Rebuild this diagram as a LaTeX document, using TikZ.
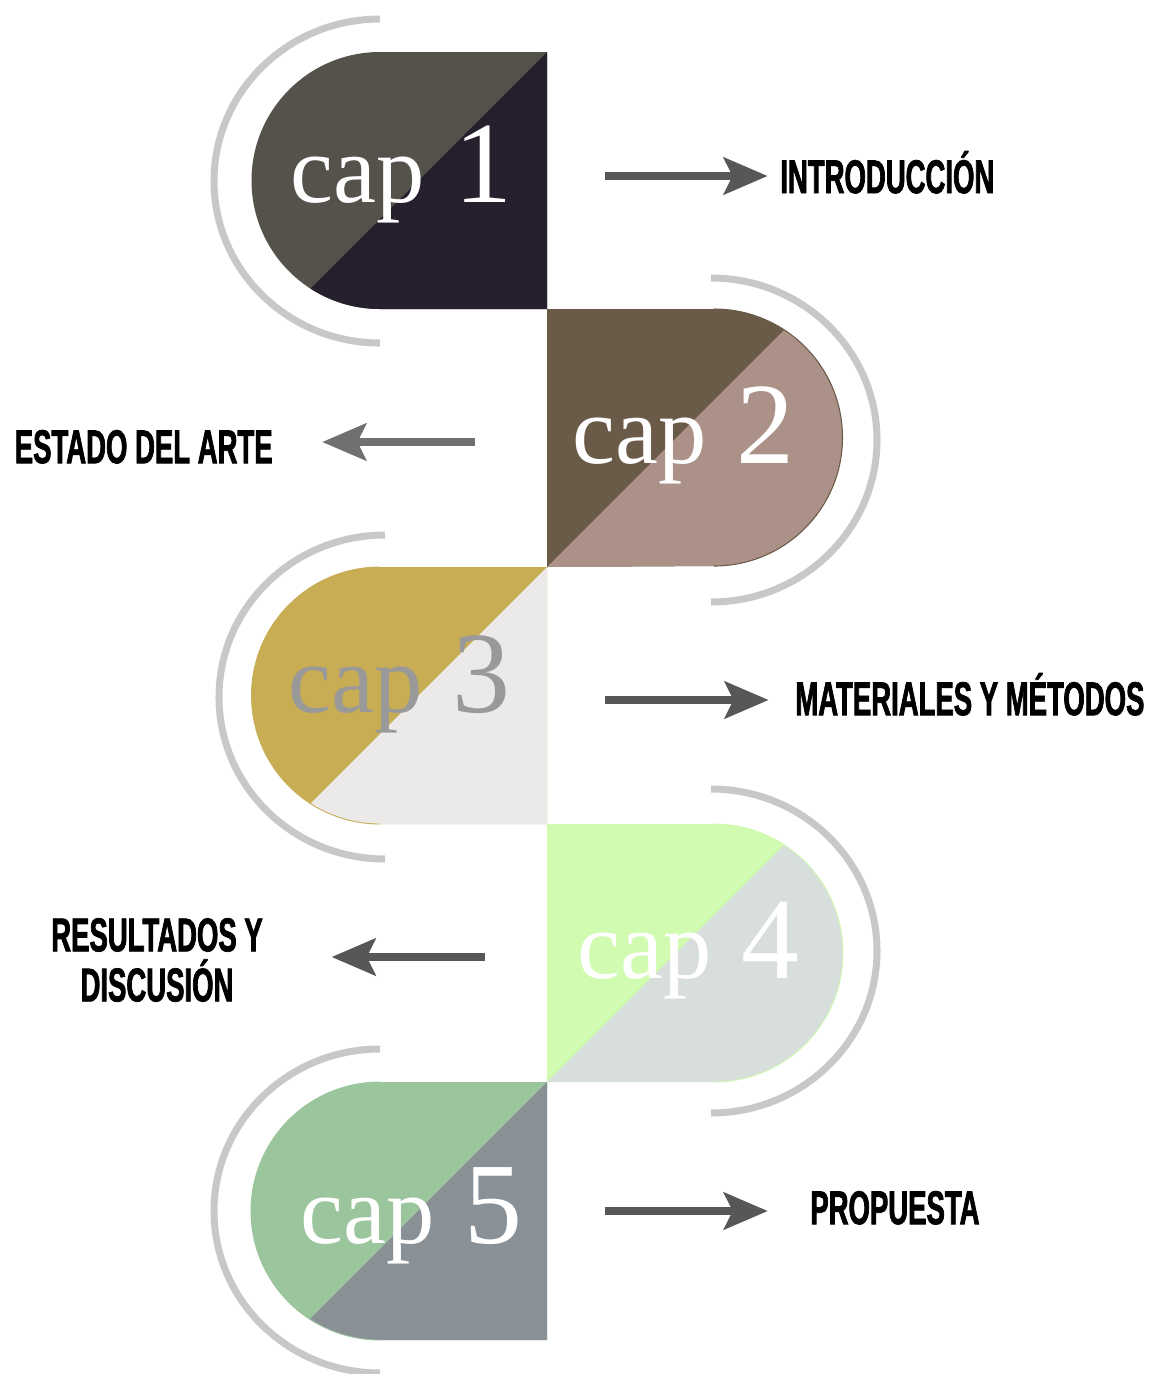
\documentclass[tikz,border=0pt]{standalone}
\usepackage{fontspec}
\usetikzlibrary{arrows.meta, positioning}
\newfontfamily\capfont{Liberation Serif}
\newfontfamily\labelfont[FakeStretch=0.58,FakeBold=1.5]{Liberation Sans Bold}
\definecolor{capAa}{HTML}{55524B}
\definecolor{capAb}{HTML}{261F2E}
\definecolor{capBa}{HTML}{6A5A48}
\definecolor{capBb}{HTML}{AB9187}
\definecolor{capCa}{HTML}{C8AD55}
\definecolor{capCb}{HTML}{ECEAE8}
\definecolor{capDa}{HTML}{D0FBB0}
\definecolor{capDb}{HTML}{D7DEDC}
\definecolor{capEa}{HTML}{9BC59C}
\definecolor{capEb}{HTML}{899096}
\definecolor{ringgray}{HTML}{C8C8C8}
\definecolor{arrowgray}{HTML}{575757}
\newcommand{\captext}[1]{\capfont\fontsize{55}{55}\selectfont cap\hspace{17pt}\fontsize{66}{66}\selectfont #1}

\begin{document}
\begin{tikzpicture}[x=0.02cm, y=-0.02cm,
    ring/.style={draw=ringgray, line width=4pt},
    flow/.style={-{Stealth[length=25pt, width=21pt, inset=5pt]}, line width=4.5pt, draw=arrowgray},
    chapter/.style={anchor=base west, inner sep=0pt, text=white},
    title/.style={inner sep=0pt, text height=19.5pt, text depth=0pt, font=\labelfont\fontsize{27}{28.5}\selectfont}]

    \useasboundingbox (0,0) rectangle (1150,1374);

    % Block 1
    \begin{scope}
        \clip (547,52) -- (380,52) arc[start angle=270, end angle=90, radius=128.5] -- (547,309) -- cycle;
        \fill[capAa] (200,40) rectangle (560,320);
        \fill[capAb] (547,52) -- (147,452) -- (547,452) -- cycle;
    \end{scope}
    \draw[ring] (380,19) arc[start angle=270, end angle=90, x radius=166, y radius=162];
    \node[chapter] (cap1) at (290,202) {\captext{1}};

    % Block 2
    \begin{scope}
        \clip (547,309) -- (714,309) arc[start angle=-90, end angle=90, radius=128.5] -- (547,567) -- cycle;
        \fill[capBa] (540,300) rectangle (900,580);
        \fill[capBb] (547,567) -- (947,167) -- (947,567) -- cycle;
    \end{scope}
    \draw[capBa, line width=0.6pt] (714,309) arc[start angle=-90, end angle=90, radius=128.5];
    \draw[ring] (711,278) arc[start angle=-90, end angle=90, x radius=166, y radius=162];
    \node[chapter] (cap2) at (572,463) {\captext{2}};

    % Block 3
    \begin{scope}
        \clip (547,567) -- (380,567) arc[start angle=270, end angle=90, radius=128.5] -- (547,824) -- cycle;
        \fill[capCa] (200,560) rectangle (560,830);
        \fill[capCb] (547,567) -- (147,967) -- (547,967) -- cycle;
    \end{scope}
    \draw[capCa, line width=0.5pt] (380,567) arc[start angle=270, end angle=90, radius=128.5];
    \draw[ring] (385,535) arc[start angle=270, end angle=90, x radius=166, y radius=162];
    \node[chapter, text=black!40] (cap3) at (288,712) {\captext{3}};

    % Block 4
    \begin{scope}
        \clip (547,824) -- (714,824) arc[start angle=-90, end angle=90, radius=129] -- (547,1082) -- cycle;
        \fill[capDa] (540,815) rectangle (900,1090);
        \fill[capDb] (547,1082) -- (947,682) -- (947,1082) -- cycle;
    \end{scope}
    \draw[capDa, line width=0.5pt] (714,824) arc[start angle=-90, end angle=90, radius=129];
    \draw[ring] (711,789) arc[start angle=-90, end angle=90, x radius=166, y radius=162];
    \node[chapter] (cap4) at (577,978) {\captext{4}};

    % Block 5
    \begin{scope}
        \clip (547,1082) -- (380,1082) arc[start angle=270, end angle=90, radius=129] -- (547,1340) -- cycle;
        \fill[capEa] (200,1075) rectangle (560,1350);
        \fill[capEb] (547,1082) -- (147,1482) -- (547,1482) -- cycle;
    \end{scope}
    \draw[capEa, line width=0.5pt] (380,1082) arc[start angle=270, end angle=90, radius=129];
    \draw[ring] (380,1049) arc[start angle=270, end angle=90, x radius=166, y radius=162];
    \node[chapter] (cap5) at (300,1243) {\captext{5}};

    % Titles
    \node[title, anchor=west] (intro) at (780,176) {INTRODUCCIÓN};
    \node[title, anchor=east] (estado) at (273,446) {ESTADO DEL ARTE};
    \node[title, anchor=west] (metodos) at (795,698) {MATERIALES Y MÉTODOS};
    \node[inner sep=0pt, align=center, font=\labelfont\fontsize{27}{28.5}\selectfont] (resultados) at (157,960) {RESULTADOS Y\\DISCUSIÓN};
    \node[title, anchor=west] (propuesta) at (810,1207) {PROPUESTA};

    % Arrows
    \coordinate (a1) at (605,176);
    \coordinate (a2) at (475,442);
    \coordinate (a3) at (605,700);
    \coordinate (a4) at (485,957);
    \coordinate (a5) at (605,1211);
    \draw[flow] (a1) -- (a1 -| intro.west) [shorten >=7pt];
    \draw[flow, draw=black!56] (a2) -- (a2 -| estado.east) [shorten >=28pt];
    \draw[flow] (a3) -- (a3 -| metodos.west) [shorten >=15pt];
    \draw[flow] (a4) -- (a4 -| resultados.east) [shorten >=39pt];
    \draw[flow] (a5) -- (a5 -| propuesta.west) [shorten >=24pt];
\end{tikzpicture}
\end{document}
